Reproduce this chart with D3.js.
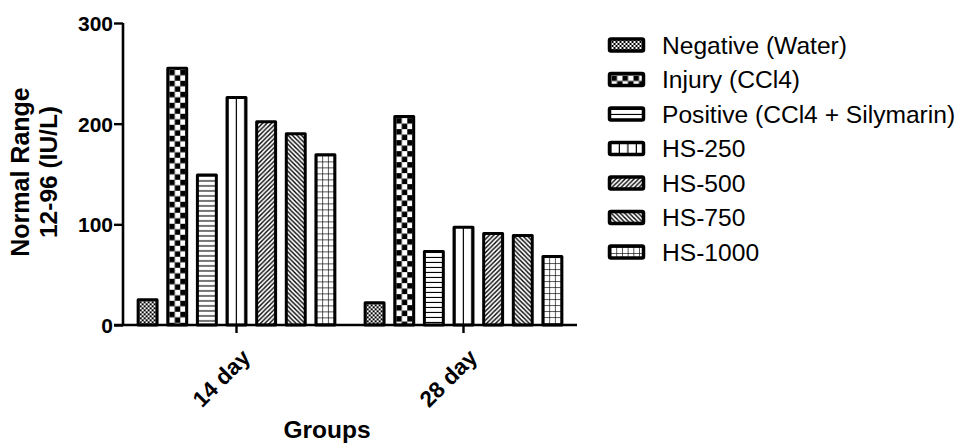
<!DOCTYPE html>
<html>
<head>
<meta charset="utf-8">
<script src="https://cdn.jsdelivr.net/npm/d3@7"></script>
<style>
  html, body { margin: 0; padding: 0; background: #fff; }
  svg { display: block; font-family: Arial, "Liberation Sans", sans-serif; }
</style>
</head>
<body>
<svg id="chart" width="962" height="443"></svg>
<script>
// Groups (x axis categories)
const groups = ["14 day", "28 day"];
// Treatment series, in legend order
const series = ["Negative (Water)", "Injury (CCl4)", "Positive (CCl4 + Silymarin)", "HS-250", "HS-500", "HS-750", "HS-1000"];
// Fill pattern for each series
const patternTypes = ["finecheck", "check", "hlines", "vlines", "diagup", "diagdown", "grid"];
// Values per series: [14 day, 28 day]
const negative = [25, 22];
const injury = [255, 207];
const positive = [149, 73];
const hs250 = [226, 97];
const hs500 = [202, 91];
const hs750 = [190, 89];
const hs1000 = [169, 68];
const yTicks = [0, 100, 200, 300];

const values = [negative, injury, positive, hs250, hs500, hs750, hs1000];

const FONT = "Arial, 'Liberation Sans', sans-serif";
const svg = d3.select("#chart");
const margin = { left: 123, top: 23, bottom: 118, right: 385 };
const W = 962, H = 443;
const plotBottom = H - margin.bottom; // 325
const plotRight = W - margin.right;   // 577

const x0 = d3.scaleBand().domain(groups).range([margin.left, plotRight]).padding(0);
const x1 = d3.scaleBand().domain(series).range([0, x0.bandwidth()])
  .paddingInner(0.26).paddingOuter(0.46);
const y = d3.scaleLinear().domain([0, 300]).range([plotBottom, margin.top]);

const defs = svg.append("defs");
let patCount = 0;

// Builds a tile pattern anchored at (ox, oy) so each bar's texture starts at its edge
function makePattern(type, ox, oy) {
  const id = "pat" + (patCount++);
  let w, h;
  const p = defs.append("pattern").attr("id", id).attr("patternUnits", "userSpaceOnUse");
  if (type === "finecheck") {
    w = 4; h = 4;
    p.append("rect").attr("width", w).attr("height", h).attr("fill", "#fff");
    p.append("rect").attr("width", 2).attr("height", 2).attr("fill", "#000");
    p.append("rect").attr("x", 2).attr("y", 2).attr("width", 2).attr("height", 2).attr("fill", "#000");
  } else if (type === "check") {
    w = 11; h = 11;
    p.append("rect").attr("width", w).attr("height", h).attr("fill", "#fff");
    p.append("rect").attr("width", 5.5).attr("height", 5.5).attr("fill", "#000");
    p.append("rect").attr("x", 5.5).attr("y", 5.5).attr("width", 5.5).attr("height", 5.5).attr("fill", "#000");
  } else if (type === "hlines") {
    w = 10; h = 5;
    p.append("rect").attr("width", w).attr("height", h).attr("fill", "#fff");
    p.append("line").attr("x1", 0).attr("x2", w).attr("y1", 4.5).attr("y2", 4.5)
      .attr("stroke", "#000").attr("stroke-width", 1.2);
  } else if (type === "vlines") {
    w = 8.5; h = 10;
    p.append("rect").attr("width", w).attr("height", h).attr("fill", "#fff");
    p.append("line").attr("y1", 0).attr("y2", h).attr("x1", 8.5).attr("x2", 8.5)
      .attr("stroke", "#000").attr("stroke-width", 2.4);
  } else if (type === "diagup") {
    w = 4.5; h = 4.5;
    p.append("rect").attr("width", w).attr("height", h).attr("fill", "#fff");
    p.append("path").attr("d", `M-1,${h + 1} L${w + 1},-1 M-1,1 L1,-1 M${w - 1},${h + 1} L${w + 1},${h - 1}`)
      .attr("stroke", "#000").attr("stroke-width", 1.4);
  } else if (type === "diagdown") {
    w = 4.5; h = 4.5;
    p.append("rect").attr("width", w).attr("height", h).attr("fill", "#fff");
    p.append("path").attr("d", `M-1,-1 L${w + 1},${h + 1} M-1,${h - 1} L1,${h + 1} M${w - 1},-1 L${w + 1},1`)
      .attr("stroke", "#000").attr("stroke-width", 1.4);
  } else if (type === "grid") {
    w = 5.7; h = 6;
    p.append("rect").attr("width", w).attr("height", h).attr("fill", "#fff");
    p.append("line").attr("x1", w).attr("x2", w).attr("y1", 0).attr("y2", h)
      .attr("stroke", "#000").attr("stroke-width", 1.3);
    p.append("line").attr("x1", 0).attr("x2", w).attr("y1", h).attr("y2", h)
      .attr("stroke", "#000").attr("stroke-width", 1.3);
  }
  p.attr("width", w).attr("height", h).attr("x", ox).attr("y", oy);
  return "url(#" + id + ")";
}

// Bars
const sw = 3;
const barData = [];
groups.forEach((gname, gi) => {
  series.forEach((s, si) => {
    barData.push({ group: gname, series: s, si: si, value: values[si][gi] });
  });
});

const bars = svg.append("g").attr("class", "bars");
barData.forEach(d => {
  const bx = x0(d.group) + x1(d.series) + sw / 2;
  const bw = x1.bandwidth() - sw;
  const by = y(d.value);
  const bh = plotBottom - by;
  const fill = makePattern(patternTypes[d.si], bx + sw / 2, by + sw / 2);
  bars.append("rect")
    .attr("x", bx).attr("y", by).attr("width", bw).attr("height", bh)
    .attr("fill", fill).attr("stroke", "#000").attr("stroke-width", sw)
    .attr("stroke-linejoin", "round");
});

// Y axis
const yAxis = svg.append("g")
  .attr("transform", `translate(${margin.left},0)`)
  .call(d3.axisLeft(y).tickValues(yTicks).tickSize(9).tickPadding(1).tickFormat(d3.format("d")));
yAxis.select(".domain").attr("stroke", "#000").attr("stroke-width", 2.6)
  .attr("d", `M0,${y(300)}V${plotBottom}`);
yAxis.selectAll(".tick line").attr("stroke", "#000").attr("stroke-width", 2.4);
yAxis.selectAll(".tick text").attr("fill", "#000")
  .style("font-size", "21px").style("font-weight", "bold").style("font-family", FONT)
  .attr("dy", "0.36em");

// X axis
const xAxis = svg.append("g")
  .attr("transform", `translate(0,${plotBottom})`)
  .call(d3.axisBottom(x0).tickSize(8).tickSizeOuter(0));
xAxis.select(".domain").attr("stroke", "#000").attr("stroke-width", 2.6)
  .attr("d", `M${margin.left - 9},0H${plotRight}`);
xAxis.selectAll(".tick line").attr("stroke", "#000").attr("stroke-width", 2.4);
xAxis.selectAll(".tick text")
  .attr("fill", "#000")
  .style("font-size", "22.5px").style("font-weight", "bold").style("font-family", FONT)
  .attr("text-anchor", "end")
  .attr("dy", null).attr("y", null)
  .attr("transform", "translate(15,34) rotate(-45)");

// Axis titles
svg.append("text")
  .attr("x", 327).attr("y", 438)
  .attr("text-anchor", "middle")
  .style("font-size", "24.5px").style("font-weight", "bold")
  .text("Groups");

const yTitle = svg.append("text")
  .attr("transform", "translate(0,172) rotate(-90)")
  .attr("text-anchor", "middle")
  .style("font-weight", "bold");
yTitle.append("tspan").attr("x", 0).attr("y", 29).style("font-size", "25px").text("Normal Range");
yTitle.append("tspan").attr("x", 0).attr("y", 57).style("font-size", "24.5px").text("12-96 (IU/L)");

// Legend
const legend = svg.append("g").attr("class", "legend");
const legY = d3.scalePoint().domain(series).range([45, 252]);
series.forEach((s, si) => {
  const cy = legY(s);
  const rx = 609.5, rw = 34, rh = 12;
  const fill = makePattern(patternTypes[si], rx + 2, cy - rh / 2 + 2);
  legend.append("rect")
    .attr("x", rx).attr("y", cy - rh / 2).attr("width", rw).attr("height", rh)
    .attr("fill", fill).attr("stroke", "#000").attr("stroke-width", 3.5)
    .attr("rx", 1.5).attr("stroke-linejoin", "round");
  legend.append("text")
    .attr("x", 662).attr("y", cy).attr("dy", "0.36em")
    .style("font-size", "24.6px")
    .text(s);
});
</script>
</body>
</html>
